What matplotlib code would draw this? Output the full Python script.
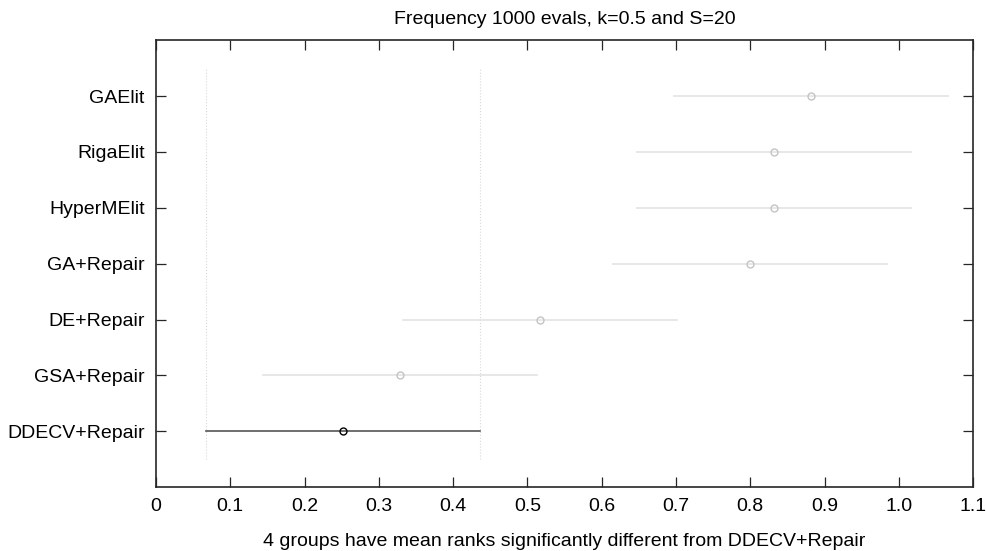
import numpy as np
import matplotlib.pyplot as plt

plt.rcParams['font.family'] = ['Liberation Sans', 'DejaVu Sans']

groups = ['DDECV+Repair', 'GSA+Repair', 'DE+Repair', 'GA+Repair',
          'HyperMElit', 'RigaElit', 'GAElit']
mean_ranks = [0.2515, 0.329, 0.5175, 0.800, 0.832, 0.832, 0.882]
half_width = [0.1845, 0.1845, 0.1845, 0.1845, 0.1845, 0.1845, 0.1845]
control = 'DDECV+Repair'

fig = plt.figure(figsize=(9.87, 5.51), dpi=100)
ax = fig.add_axes([0.158, 0.116, 0.828, 0.811])

ypos = np.arange(1, len(groups) + 1)
for y, name, m, h in zip(ypos, groups, mean_ranks, half_width):
    if name == control:
        ax.plot([m - h, m + h], [y, y], color='#555555', lw=1.2, zorder=3)
        ax.plot(m, y, 'o', mfc='none', mec='black', ms=5, mew=1.0, zorder=4)
        # dotted bounds of the control interval
        for xb in (m - h, m + h):
            ax.plot([xb, xb], [0.5, len(groups) + 0.5], color='#d9d9d9',
                    lw=0.8, ls=':', zorder=1)
    else:
        ax.plot([m - h, m + h], [y, y], color='#e3e3e3', lw=1.2, zorder=2)
        ax.plot(m, y, 'o', mfc='none', mec='#c4c4c4', ms=5, mew=1.0, zorder=3)

ax.set_xlim(0, 1.1)
ax.set_ylim(0, len(groups) + 1)
ax.set_xticks(np.arange(0, 1.11, 0.1))
ax.set_xticklabels(['0'] + ['%.1f' % v for v in np.arange(0.1, 1.11, 0.1)])
ax.set_yticks(ypos)
ax.set_yticklabels(groups)
ax.tick_params(direction='in', length=7, width=0.9, colors='#262626',
               labelsize=14, top=True, right=True, pad=8)
ax.tick_params(axis='x', labelcolor='black')
ax.tick_params(axis='y', labelcolor='black')
for s in ax.spines.values():
    s.set_linewidth(1.2)
    s.set_color('#262626')

ax.set_title('Frequency 1000 evals, k=0.5 and S=20', fontsize=14, pad=12)
ax.set_xlabel('4 groups have mean ranks significantly different from DDECV+Repair',
              fontsize=14, labelpad=13)

fig.savefig('out.png', dpi=100)
